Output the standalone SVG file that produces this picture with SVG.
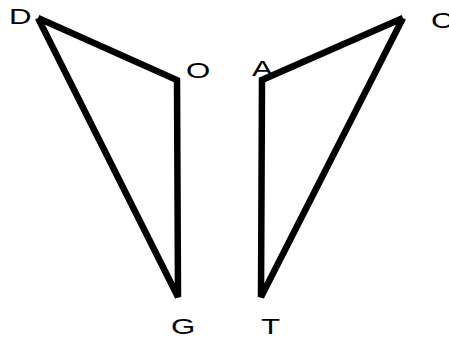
<svg xmlns="http://www.w3.org/2000/svg" width="449" height="338" viewBox="0 0 449 338">
<style>
.edge{fill:none;stroke:#000;stroke-width:6.5;stroke-linejoin:miter;stroke-linecap:butt}
.lbl{font-family:"Liberation Sans",Arial,sans-serif;font-size:22px;fill:#000}
</style>
<rect width="449" height="338" fill="#fff"/>
<g id="connectors">
<polyline class="edge" points="38,18 177,80 178,297 38,18"/>
<polyline class="edge" points="403,18 262,80 261,297 403,18"/>
</g>
<g id="node-D"><text class="lbl" transform="translate(9,24) scale(1.42,1)">D</text></g>
<g id="node-O"><text class="lbl" transform="translate(186,78) scale(1.42,1)">O</text></g>
<g id="node-A"><text class="lbl" transform="translate(252,76) scale(1.42,1)">A</text></g>
<g id="node-C"><text class="lbl" transform="translate(431,28) scale(1.42,1)">C</text></g>
<g id="node-G"><text class="lbl" transform="translate(171,334) scale(1.42,1)">G</text></g>
<g id="node-T"><text class="lbl" transform="translate(261,334) scale(1.42,1)">T</text></g>
</svg>
